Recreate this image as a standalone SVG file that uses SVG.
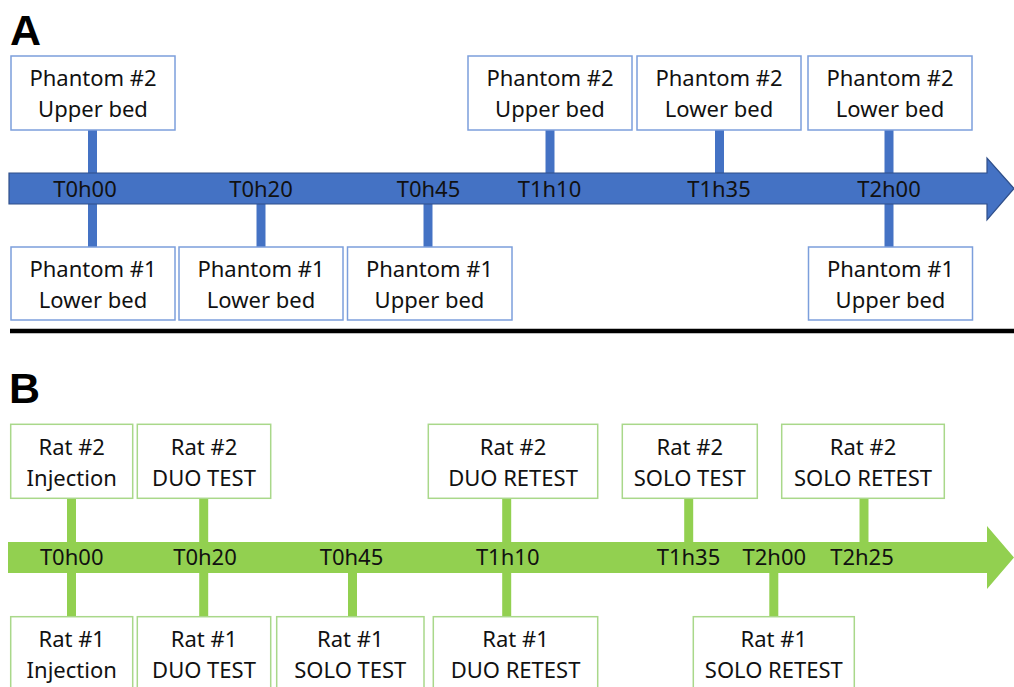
<svg xmlns="http://www.w3.org/2000/svg" width="1014" height="687" viewBox="0 0 1014 687">
<style>
text{font-family:"Noto Sans","Open Sans","Liberation Sans",sans-serif;font-size:22px;fill:#111;text-anchor:middle}
.big{font-family:"Liberation Sans",Arial,sans-serif;font-weight:bold;font-size:43px;text-anchor:start;fill:#000}
.bbox{fill:#fff;stroke:#7C9FDC;stroke-width:1.5}
.gbox{fill:#fff;stroke:#A9D88A;stroke-width:1.5}
.bc{stroke:#4472C4;stroke-width:9}
.gc{stroke:#92D050;stroke-width:9}
</style>
<rect width="1014" height="687" fill="#fff"/>
<text class="big" x="10" y="45">A</text>
<text class="big" x="9" y="403">B</text>
<line x1="10" y1="331" x2="1014" y2="331" stroke="#000" stroke-width="4.5"/>
<g id="connectors">
<line class="bc" x1="92.5" y1="130" x2="92.5" y2="247"/>
<line class="bc" x1="261" y1="204" x2="261" y2="247"/>
<line class="bc" x1="428" y1="204" x2="428" y2="247"/>
<line class="bc" x1="550" y1="130" x2="550" y2="173"/>
<line class="bc" x1="719.5" y1="130" x2="719.5" y2="173"/>
<line class="bc" x1="889" y1="130" x2="889" y2="247"/>
<line class="gc" x1="71.5" y1="498" x2="71.5" y2="617"/>
<line class="gc" x1="203.7" y1="498" x2="203.7" y2="617"/>
<line class="gc" x1="352.5" y1="573" x2="352.5" y2="617"/>
<line class="gc" x1="506.7" y1="498" x2="506.7" y2="617"/>
<line class="gc" x1="688.7" y1="498" x2="688.7" y2="542"/>
<line class="gc" x1="773.8" y1="573" x2="773.8" y2="617"/>
<line class="gc" x1="864" y1="498" x2="864" y2="542"/>
</g>
<g id="timelineA">
<polygon points="9,173 987,173 987,158 1014,188.5 987,220 987,204 9,204" fill="#4472C4" stroke="#2F4F8A" stroke-width="1.2"/>
<text x="85" y="197">T0h00</text>
<text x="261" y="197">T0h20</text>
<text x="428.5" y="197">T0h45</text>
<text x="549.5" y="197">T1h10</text>
<text x="719" y="197">T1h35</text>
<text x="889" y="197">T2h00</text>
</g>
<g id="timelineB">
<polygon points="8,542 987,542 987,526 1014,557.5 987,589 987,573 8,573" fill="#92D050"/>
<text x="71.7" y="565">T0h00</text>
<text x="205" y="565">T0h20</text>
<text x="351.5" y="565">T0h45</text>
<text x="507.7" y="565">T1h10</text>
<text x="688.5" y="565">T1h35</text>
<text x="774.3" y="565">T2h00</text>
<text x="862" y="565">T2h25</text>
</g>
<g id="a-top-1"><rect class="bbox" x="11" y="56" width="164" height="74"/><text x="93" y="86">Phantom #2</text><text x="93" y="116.5">Upper bed</text></g>
<g id="a-bot-1"><rect class="bbox" x="11" y="247" width="164" height="73"/><text x="93" y="277">Phantom #1</text><text x="93" y="307.5">Lower bed</text></g>
<g id="a-bot-2"><rect class="bbox" x="179" y="247" width="164" height="73"/><text x="261" y="277">Phantom #1</text><text x="261" y="307.5">Lower bed</text></g>
<g id="a-bot-3"><rect class="bbox" x="347.5" y="247" width="164.5" height="73"/><text x="429.5" y="277">Phantom #1</text><text x="429.5" y="307.5">Upper bed</text></g>
<g id="a-top-2"><rect class="bbox" x="468" y="56" width="164" height="74"/><text x="550" y="86">Phantom #2</text><text x="550" y="116.5">Upper bed</text></g>
<g id="a-top-3"><rect class="bbox" x="637" y="56" width="164" height="74"/><text x="719" y="86">Phantom #2</text><text x="719" y="116.5">Lower bed</text></g>
<g id="a-top-4"><rect class="bbox" x="808" y="56" width="164" height="74"/><text x="890" y="86">Phantom #2</text><text x="890" y="116.5">Lower bed</text></g>
<g id="a-bot-4"><rect class="bbox" x="808.5" y="247" width="164" height="73"/><text x="890.5" y="277">Phantom #1</text><text x="890.5" y="307.5">Upper bed</text></g>
<g id="b-top-1"><rect class="gbox" x="10.7" y="424.3" width="122" height="74"/><text x="71.7" y="455">Rat #2</text><text x="71.7" y="485.5">Injection</text></g>
<g id="b-top-2"><rect class="gbox" x="137.3" y="424.3" width="133.4" height="74"/><text x="204" y="455">Rat #2</text><text x="204" y="485.5">DUO TEST</text></g>
<g id="b-top-3"><rect class="gbox" x="428.3" y="424.3" width="169.4" height="74"/><text x="513" y="455">Rat #2</text><text x="513" y="485.5">DUO RETEST</text></g>
<g id="b-top-4"><rect class="gbox" x="622.3" y="424.3" width="135" height="74"/><text x="689.8" y="455">Rat #2</text><text x="689.8" y="485.5">SOLO TEST</text></g>
<g id="b-top-5"><rect class="gbox" x="781.7" y="424.3" width="162.6" height="74"/><text x="863" y="455">Rat #2</text><text x="863" y="485.5">SOLO RETEST</text></g>
<g id="b-bot-1"><rect class="gbox" x="10.7" y="616.7" width="122" height="74"/><text x="71.7" y="647">Rat #1</text><text x="71.7" y="677.5">Injection</text></g>
<g id="b-bot-2"><rect class="gbox" x="137.3" y="616.7" width="133.4" height="74"/><text x="204" y="647">Rat #1</text><text x="204" y="677.5">DUO TEST</text></g>
<g id="b-bot-3"><rect class="gbox" x="276.7" y="616.7" width="147.3" height="74"/><text x="350.3" y="647">Rat #1</text><text x="350.3" y="677.5">SOLO TEST</text></g>
<g id="b-bot-4"><rect class="gbox" x="433.3" y="616.7" width="164.4" height="74"/><text x="515.5" y="647">Rat #1</text><text x="515.5" y="677.5">DUO RETEST</text></g>
<g id="b-bot-5"><rect class="gbox" x="693.3" y="616.7" width="161" height="74"/><text x="773.8" y="647">Rat #1</text><text x="773.8" y="677.5">SOLO RETEST</text></g>
</svg>
